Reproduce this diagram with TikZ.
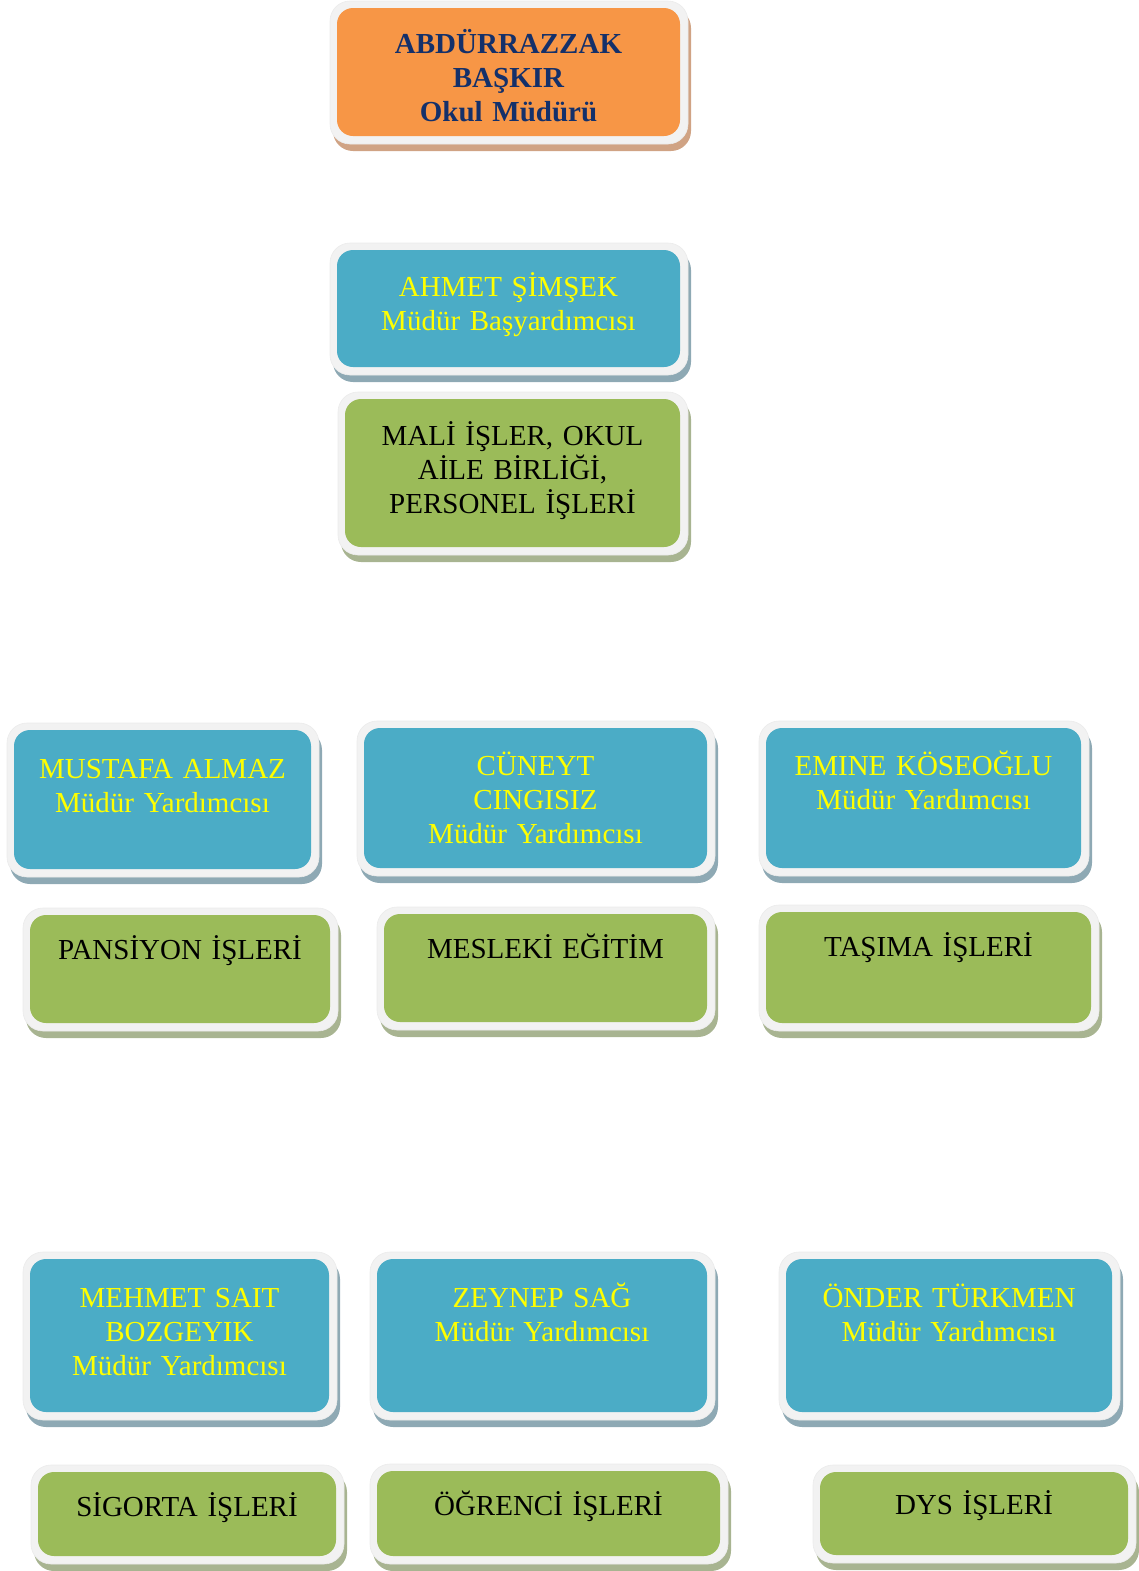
\documentclass[tikz,border=0pt]{standalone}
\usepackage{fontspec}
\setmainfont{Liberation Serif}
\usepackage{tikz}
\usetikzlibrary{positioning}

\definecolor{boxorange}{HTML}{F79646}
\definecolor{boxblue}{HTML}{4BACC6}
\definecolor{boxgreen}{HTML}{9BBB59}
\definecolor{shadeorange}{HTML}{D0A384}
\definecolor{shadeblue}{HTML}{8EA9B4}
\definecolor{shadegreen}{HTML}{A8B491}
\definecolor{framegray}{HTML}{F2F2F2}
\definecolor{navytext}{HTML}{14306A}
\definecolor{yellowtext}{HTML}{FFFF00}

\newcommand{\chartfont}{\fontsize{14.5}{17}\selectfont\spaceskip=0.2em plus 0.1em minus 0.05em\relax}

\tikzset{
    orangebox/.style={fill=boxorange},
    bluebox/.style={fill=boxblue},
    greenbox/.style={fill=boxgreen},
    orangebox shadow/.style={fill=shadeorange},
    bluebox shadow/.style={fill=shadeblue},
    greenbox shadow/.style={fill=shadegreen},
    boxframe/.style={fill=framegray, draw=black!8, line width=0.3pt},
    bossfont/.style={font=\chartfont\bfseries, text=navytext},
    namefont/.style={font=\chartfont, text=yellowtext},
    taskfont/.style={font=\chartfont, text=black}
}

% name, x1, y1, x2, y2 (inner box), box style, baseline, text style, text
\newcommand{\orgbox}[9]{
    \fill[#6 shadow, rounded corners=10pt] (#2-4,#3-0) rectangle (#4+11,#5+15);
    \fill[boxframe, rounded corners=10pt] (#2-7,#3-7) rectangle (#4+8,#5+8);
    \node[#6, rectangle, rounded corners=8pt, inner sep=0pt,
          minimum width={(#4-#2)*0.5pt}, minimum height={(#5-#3)*0.5pt}]
          (#1) at ({(#2+#4)/2},{(#3+#5)/2}) {};
    \node[#8, text width={(#4-#2)*0.5pt}, align=center, anchor=base, inner sep=0pt]
          (#1-text) at ({(#2+#4)/2},#7+2) {#9};
}

\begin{document}
\begin{tikzpicture}[x=0.5pt, y=-0.5pt]
    \useasboundingbox (0,0) rectangle (1139,1571);

    \orgbox{mudur}{337}{8}{680}{136}{orangebox}{51}{bossfont}{ABDÜRRAZZAK\\BAŞKIR\\Okul Müdürü}
    \orgbox{basyrd}{337}{250}{680}{367}{bluebox}{294}{namefont}{AHMET ŞİMŞEK\\Müdür Başyardımcısı}
    \orgbox{mali}{345}{399}{680}{547}{greenbox}{443}{taskfont}{MALİ İŞLER, OKUL\\AİLE BİRLİĞİ,\\PERSONEL İŞLERİ}

    \orgbox{almaz}{14}{730}{311}{869}{bluebox}{776}{namefont}{MUSTAFA ALMAZ\\Müdür Yardımcısı}
    \orgbox{cingisiz}{364}{728}{707}{868}{bluebox}{773}{namefont}{CÜNEYT\\CINGISIZ\\Müdür Yardımcısı}
    \orgbox{koseoglu}{766}{728}{1081}{868}{bluebox}{773}{namefont}{EMINE KÖSEOĞLU\\Müdür Yardımcısı}
    \orgbox{pansiyon}{30}{915}{330}{1023}{greenbox}{957}{taskfont}{PANSİYON İŞLERİ}
    \orgbox{mesleki}{384}{914}{707}{1022}{greenbox}{956}{taskfont}{MESLEKİ EĞİTİM}
    \orgbox{tasima}{766}{912}{1091}{1023}{greenbox}{954}{taskfont}{TAŞIMA İŞLERİ}

    \orgbox{bozgeyik}{30}{1259}{329}{1412}{bluebox}{1305}{namefont}{MEHMET SAIT\\BOZGEYIK\\Müdür Yardımcısı}
    \orgbox{sag}{377}{1259}{707}{1412}{bluebox}{1305}{namefont}{ZEYNEP SAĞ\\Müdür Yardımcısı}
    \orgbox{turkmen}{786}{1259}{1112}{1412}{bluebox}{1305}{namefont}{ÖNDER TÜRKMEN\\Müdür Yardımcısı}
    \orgbox{sigorta}{38}{1472}{336}{1556}{greenbox}{1514}{taskfont}{SİGORTA İŞLERİ}
    \orgbox{ogrenci}{377}{1471}{720}{1556}{greenbox}{1513}{taskfont}{ÖĞRENCİ İŞLERİ}
    \orgbox{dys}{820}{1472}{1128}{1555}{greenbox}{1512}{taskfont}{DYS İŞLERİ}
\end{tikzpicture}
\end{document}
